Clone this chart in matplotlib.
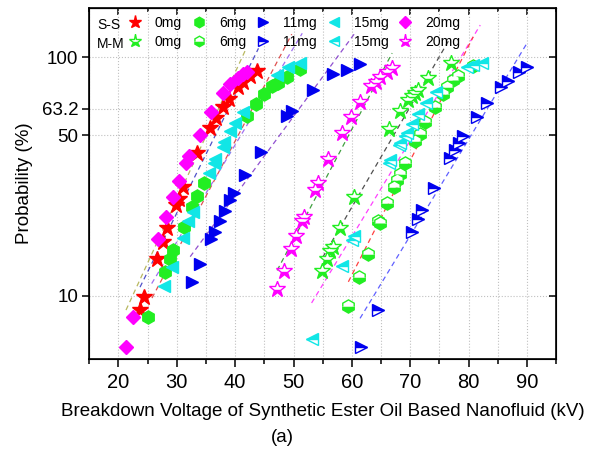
import numpy as np
import matplotlib.pyplot as plt
from matplotlib.ticker import MultipleLocator, FixedLocator, NullLocator, NullFormatter

plt.rcParams['font.family'] = ['Liberation Sans', 'DejaVu Sans']

# ---- data: breakdown voltage (kV) vs probability (%)
# S-S electrodes
ss_0mg_x = [23.7, 24.4, 26.6, 27.6, 28.4, 29.9, 30.3, 31.1, 33.5, 35.7, 36.7, 37.9, 38.9, 40.5, 41.4, 42.5, 43.8]
ss_0mg_y = [8.7, 9.9, 14.5, 17.1, 19.7, 24.8, 26.5, 29.9, 42.0, 53.3, 58.3, 64.0, 68.7, 76.5, 80.2, 84.6, 88.7]
ss_6mg_x = [25.1, 27.9, 28.8, 29.4, 31.2, 32.6, 33.5, 34.7, 42.0, 43.5, 44.9, 46.4, 47.3, 48.8, 51.1]
ss_6mg_y = [8.1, 12.7, 14.4, 15.8, 19.9, 24.3, 27.2, 30.9, 59.3, 65.9, 72.0, 77.4, 79.7, 84.1, 89.8]
ss_11mg_x = [32.6, 34.0, 35.9, 36.6, 37.4, 38.3, 39.2, 39.8, 41.7, 44.4, 48.9, 49.7, 53.3, 56.8, 59.1, 61.4]
ss_11mg_y = [11.5, 13.8, 17.7, 19.0, 21.1, 23.3, 26.1, 27.9, 33.7, 42.3, 59.3, 62.2, 74.4, 86.1, 89.3, 94.2]
ss_15mg_x = [27.8, 29.1, 31.0, 32.0, 32.7, 35.5, 36.3, 36.6, 37.9, 38.1, 39.1, 39.9, 41.3, 47.1, 49.1, 51.1]
ss_15mg_y = [11.0, 13.3, 17.9, 21.2, 23.2, 34.4, 37.7, 39.5, 44.6, 46.7, 51.8, 55.9, 61.4, 85.1, 92.0, 95.3]
ss_20mg_x = [21.3, 22.5, 26.8, 28.1, 29.3, 30.3, 31.6, 32.1, 33.9, 35.9, 37.9, 39.1, 40.5, 41.4, 42.0]
ss_20mg_y = [6.0, 8.1, 17.6, 22.0, 27.0, 31.7, 37.7, 40.6, 50.3, 61.4, 72.5, 78.8, 82.9, 86.1, 88.1]

# M-M electrodes
mm_0mg_x = [54.8, 55.8, 56.3, 56.7, 58.0, 60.4, 66.3, 68.3, 69.7, 70.3, 70.8, 71.4, 73.1, 77.0]
mm_0mg_y = [12.85, 14.4, 15.7, 16.3, 19.7, 27.0, 52.7, 62.1, 68.3, 70.6, 73.0, 74.6, 82.9, 94.8]
mm_6mg_x = [59.4, 61.3, 62.7, 64.5, 64.8, 66.1, 67.2, 67.8, 68.3, 69.1, 70.8, 71.6, 72.6, 74.3, 75.6, 76.3, 77.4, 78.2, 80.7]
mm_6mg_y = [9.0, 12.1, 15.2, 21.2, 20.7, 25.4, 29.9, 31.9, 33.9, 37.7, 47.3, 50.6, 56.4, 64.3, 72.0, 76.5, 81.6, 84.6, 92.5]
mm_11mg_x = [61.5, 64.4, 70.3, 71.4, 72.1, 74.1, 76.8, 77.7, 78.3, 79.0, 81.4, 83.1, 85.5, 86.8, 88.7, 90.0]
mm_11mg_y = [6.0, 8.7, 19.0, 21.7, 23.6, 29.4, 39.7, 43.1, 46.1, 49.6, 58.9, 66.8, 77.0, 81.1, 88.1, 91.4]
mm_15mg_x = [53.1, 58.3, 60.0, 60.4, 66.4, 66.5, 68.0, 68.2, 69.1, 69.4, 70.3, 71.4, 72.7, 74.4, 79.7, 80.8, 82.3]
mm_15mg_y = [6.45, 13.5, 17.5, 18.2, 37.7, 39.0, 45.3, 46.3, 49.6, 50.9, 55.3, 60.4, 66.3, 73.6, 92.0, 93.4, 95.3]
mm_20mg_x = [47.2, 48.4, 49.6, 50.5, 51.5, 51.8, 53.7, 54.2, 55.9, 58.3, 59.9, 61.4, 63.3, 64.1, 64.9, 66.0, 66.8]
mm_20mg_y = [10.7, 12.85, 16.0, 18.2, 21.2, 22.1, 28.9, 31.1, 39.5, 51.2, 58.9, 67.3, 77.4, 80.4, 84.1, 88.1, 90.6]

# dashed fit lines (start/end points)
fit_x = [(21.3, 41.9), (23.7, 44.0), (25.75, 49.7), (25.7, 51.5), (32.3, 60.5),
         (47.2, 66.9), (55.0, 76.8), (53.1, 82.0), (59.4, 80.8), (61.4, 90.0)]
fit_y = [(8.66, 108.4), (10.9, 108.4), (9.77, 123.0), (11.3, 124.0), (14.8, 124.0),
         (12.9, 103.9), (14.7, 118.4), (9.3, 133.4), (11.5, 120.2), (7.97, 113.4)]
fit_colors = ['#b8b860', '#5050c8', '#e05050', '#a070f0', '#9050d0',
              '#40a040', '#505050', '#ff40ff', '#ff4040', '#6060ff']

ytick_vals = [10, 50, 63.2, 100]
ytick_labels = ['10', '50', '63.2', '100']

# probability axis, log-like and stretched towards the top
P_LOG = np.log10([0.001, 1, 10, 50, 63.2, 100, 1000, 1e5])
P_POS = np.array([-918.0, -229.5, 0.0, 160.4, 187.0, 238.4, 496.3, 1012.1])


def prob_fwd(p):
    p = np.clip(np.asarray(p, dtype=float), 1e-3, 1e5)
    return np.interp(np.log10(p), P_LOG, P_POS)


def prob_inv(v):
    return 10 ** np.interp(np.asarray(v, dtype=float), P_POS, P_LOG)


fig = plt.figure(figsize=(5.91, 4.53), dpi=100)
ax = fig.add_axes([0.151, 0.2075, 0.79, 0.7742])
ax.set_yscale('function', functions=(prob_fwd, prob_inv))

for (x0, x1), (y0, y1), c in zip(fit_x, fit_y, fit_colors):
    ax.plot([x0, x1], [y0, y1], ls=(0, (4, 3)), color=c, lw=0.9, zorder=2)

series = [
    (ss_0mg_x, ss_0mg_y, '*', '#ff0000', 12, 'full'),
    (mm_0mg_x, mm_0mg_y, '*', '#22ee22', 12, 'bottom'),
    (ss_6mg_x, ss_6mg_y, 'h', '#22ee22', 9.5, 'full'),
    (mm_6mg_x, mm_6mg_y, 'h', '#22ee22', 9.5, 'bottom'),
    (ss_11mg_x, ss_11mg_y, '>', '#0000ee', 8.5, 'full'),
    (mm_11mg_x, mm_11mg_y, '>', '#0000ee', 8.5, 'top'),
    (ss_15mg_x, ss_15mg_y, '<', '#11e6e6', 8.5, 'full'),
    (mm_15mg_x, mm_15mg_y, '<', '#11e6e6', 8.5, 'top'),
    (ss_20mg_x, ss_20mg_y, 'D', '#ff00ff', 7.5, 'full'),
    (mm_20mg_x, mm_20mg_y, '*', '#ff00ff', 12, 'bottom'),
]
labels = ['0mg', '0mg', '6mg', '6mg', '11mg', '11mg', '15mg', '15mg', '20mg', '20mg']
handles = []
for (x, y, m, c, s, fs), lab in zip(series, labels):
    h, = ax.plot(x, y, ls='none', marker=m, ms=s, color=c, mfc=c, mec=c,
                 mew=1.0, fillstyle=fs, markerfacecoloralt='white', zorder=3, label=lab)
    handles.append(h)

ax.set_xlim(15, 95)
ax.set_ylim(5.3, 155)
ax.xaxis.set_major_locator(MultipleLocator(10))
ax.xaxis.set_minor_locator(MultipleLocator(5))
ax.yaxis.set_major_locator(FixedLocator(ytick_vals))
ax.yaxis.set_minor_locator(NullLocator())
ax.set_yticklabels(ytick_labels)
ax.yaxis.set_minor_formatter(NullFormatter())

ax.grid(True, axis='x', which='both', ls=':', color='#c0c0c0', lw=0.8)
ax.grid(True, axis='y', which='major', ls=':', color='#c0c0c0', lw=0.8)
ax.set_axisbelow(True)

ax.tick_params(axis='x', which='major', direction='out', length=6, width=1.1, labelsize=14.5, pad=4)
ax.tick_params(axis='x', which='minor', direction='out', length=3.5, width=1.1)
ax.tick_params(axis='y', which='major', direction='out', length=5, width=1.1, labelsize=13.5, pad=3)
for sp in ax.spines.values():
    sp.set_linewidth(1.2)

# mirrored inward ticks on top and right
top = ax.secondary_xaxis('top')
top.xaxis.set_major_locator(MultipleLocator(10))
top.xaxis.set_minor_locator(MultipleLocator(5))
top.tick_params(which='both', direction='in', labeltop=False, width=1.1)
top.tick_params(which='major', length=5)
top.tick_params(which='minor', length=3)
right = ax.twinx()
right.set_yscale('function', functions=(prob_fwd, prob_inv))
right.set_ylim(ax.get_ylim())
right.yaxis.set_major_locator(FixedLocator(ytick_vals))
right.yaxis.set_minor_locator(NullLocator())
right.tick_params(axis='y', direction='in', length=5, width=1.1, labelright=False)
right.yaxis.set_minor_formatter(NullFormatter())

ax.set_xlabel('Breakdown Voltage of Synthetic Ester Oil Based Nanofluid (kV)', fontsize=13.5, labelpad=8)
ax.set_ylabel('Probability (%)', fontsize=13.5, labelpad=6)
fig.text(282 / 591, 1 - 437 / 453, '(a)', fontsize=13.5, ha='center', va='center')

ax.text(0.017, 0.953, 'S-S', transform=ax.transAxes, fontsize=10, va='center')
ax.text(0.017, 0.899, 'M-M', transform=ax.transAxes, fontsize=10, va='center')
ax.legend(handles=handles, ncol=5, loc='upper left', bbox_to_anchor=(0.080, 0.978),
          frameon=False, fontsize=10, handlelength=1.2, handletextpad=0.84,
          columnspacing=0.62, labelspacing=0.33, borderaxespad=0, borderpad=0,
          numpoints=1, markerscale=0.8)

fig.savefig('out.png', dpi=100)
